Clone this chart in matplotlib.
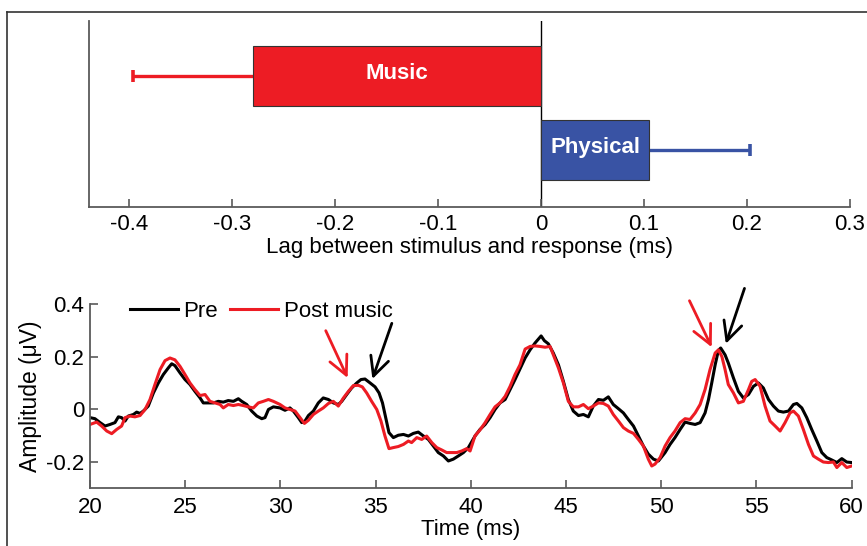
import matplotlib
matplotlib.use("Agg")
import matplotlib.pyplot as plt
from matplotlib.lines import Line2D

# ---- top panel: lag between stimulus and response ----
lag_labels = ["Music", "Physical"]
lag_values = [-0.28, 0.105]
lag_errors = [0.116, 0.098]
lag_colors = ["#ED1C24", "#3953A4"]
lag_ticks = [-0.4, -0.3, -0.2, -0.1, 0, 0.1, 0.2, 0.3]
lag_ticklabels = ["-0.4", "-0.3", "-0.2", "-0.1", "0", "0.1", "0.2", "0.3"]

# ---- bottom panel: waveforms (Time in ms, amplitude in uV) ----
pre_t = [20.0, 20.26, 20.53, 20.79, 21.05, 21.31, 21.49, 21.66, 21.84, 22.01,
         22.28, 22.45, 22.63, 22.80, 23.06, 23.33, 23.59, 23.85, 24.11, 24.29,
         24.46, 24.73, 24.99, 25.25, 25.51, 25.78, 25.95, 26.21, 26.48, 26.74,
         27.00, 27.26, 27.53, 27.79, 27.97, 28.23, 28.49, 28.76, 29.02, 29.19,
         29.37, 29.63, 29.98, 30.24, 30.50, 30.68, 30.94, 31.12, 31.29, 31.47,
         31.73, 31.99, 32.25, 32.52, 32.78, 33.04, 33.22, 33.48, 33.74, 34.01,
         34.23, 34.44, 34.71, 34.97, 35.18, 35.36, 35.53, 35.70, 35.93, 36.19,
         36.46, 36.72, 36.98, 37.24, 37.51, 37.77, 38.03, 38.29, 38.56, 38.82,
         39.08, 39.34, 39.61, 39.87, 40.22, 40.48, 40.75, 41.01, 41.27, 41.53,
         41.80, 42.06, 42.32, 42.58, 42.85, 43.11, 43.37, 43.55, 43.69, 43.86,
         44.07, 44.33, 44.60, 44.86, 45.12, 45.38, 45.65, 45.91, 46.17, 46.43,
         46.70, 46.96, 47.22, 47.48, 47.75, 48.01, 48.27, 48.54, 48.80, 49.06,
         49.32, 49.59, 49.85, 50.20, 50.46, 50.72, 50.99, 51.25, 51.51, 51.78,
         52.04, 52.30, 52.48, 52.65, 52.83, 53.00, 53.12, 53.35, 53.52, 53.79,
         54.05, 54.31, 54.58, 54.84, 55.10, 55.36, 55.63, 55.89, 56.15, 56.41,
         56.68, 56.94, 57.12, 57.38, 57.64, 57.90, 58.17, 58.43, 58.69, 58.95,
         59.22, 59.48, 59.74, 60.0]
pre_v = [-0.031, -0.035, -0.050, -0.063, -0.057, -0.050, -0.028, -0.031, -0.044, -0.025,
         -0.019, -0.010, -0.015, -0.006, 0.013, 0.063, 0.101, 0.133, 0.158, 0.174,
         0.167, 0.139, 0.114, 0.095, 0.069, 0.044, 0.025, 0.025, 0.025, 0.031,
         0.028, 0.034, 0.031, 0.041, 0.031, 0.019, -0.006, -0.025, -0.035, -0.031,
         0.000, 0.010, 0.006, -0.003, 0.006, -0.006, -0.031, -0.050, -0.044, -0.023,
         -0.006, 0.025, 0.044, 0.038, 0.025, 0.019, 0.031, 0.057, 0.082, 0.101,
         0.114, 0.116, 0.101, 0.086, 0.063, 0.025, -0.031, -0.088, -0.107, -0.098,
         -0.095, -0.101, -0.091, -0.086, -0.101, -0.114, -0.139, -0.164, -0.177, -0.196,
         -0.189, -0.177, -0.164, -0.145, -0.101, -0.076, -0.057, -0.031, 0.000, 0.025,
         0.038, 0.076, 0.114, 0.154, 0.196, 0.227, 0.253, 0.268, 0.280, 0.262,
         0.250, 0.215, 0.170, 0.107, 0.038, -0.006, -0.023, -0.019, -0.028, 0.013,
         0.038, 0.035, 0.048, 0.019, 0.003, -0.013, -0.038, -0.063, -0.101, -0.139,
         -0.170, -0.189, -0.196, -0.164, -0.133, -0.107, -0.076, -0.048, -0.053, -0.057,
         -0.050, -0.013, 0.038, 0.101, 0.170, 0.225, 0.234, 0.208, 0.177, 0.120,
         0.069, 0.044, 0.057, 0.088, 0.101, 0.082, 0.038, 0.013, -0.006, -0.010,
         -0.006, 0.019, 0.023, 0.006, -0.031, -0.076, -0.120, -0.164, -0.183, -0.192,
         -0.202, -0.187, -0.200, -0.202]

post_t = [20.0, 20.35, 20.61, 20.88, 21.14, 21.40, 21.66, 21.84, 22.10, 22.36,
          22.63, 22.89, 23.15, 23.41, 23.68, 23.94, 24.20, 24.46, 24.73, 24.99,
          25.25, 25.51, 25.78, 26.04, 26.30, 26.57, 26.83, 27.00, 27.26, 27.53,
          27.79, 28.05, 28.31, 28.58, 28.84, 29.10, 29.37, 29.63, 29.98, 30.24,
          30.50, 30.77, 31.03, 31.26, 31.47, 31.73, 31.99, 32.25, 32.52, 32.78,
          33.04, 33.31, 33.57, 33.83, 34.09, 34.30, 34.53, 34.79, 35.06, 35.28,
          35.49, 35.70, 35.93, 36.19, 36.46, 36.72, 36.89, 37.16, 37.42, 37.68,
          37.95, 38.21, 38.47, 38.73, 39.00, 39.26, 39.52, 39.78, 39.96, 40.22,
          40.48, 40.75, 41.01, 41.27, 41.53, 41.80, 42.06, 42.32, 42.58, 42.85,
          43.11, 43.37, 43.63, 43.90, 44.16, 44.33, 44.60, 44.86, 45.12, 45.38,
          45.65, 45.91, 46.17, 46.43, 46.70, 46.96, 47.22, 47.48, 47.75, 48.01,
          48.27, 48.54, 48.80, 49.06, 49.32, 49.50, 49.67, 49.94, 50.20, 50.46,
          50.72, 50.99, 51.25, 51.51, 51.78, 52.04, 52.30, 52.56, 52.83, 53.00,
          53.18, 53.35, 53.52, 53.79, 54.05, 54.31, 54.58, 54.75, 54.93, 55.19,
          55.45, 55.71, 55.98, 56.24, 56.50, 56.76, 56.94, 57.20, 57.46, 57.73,
          57.99, 58.25, 58.51, 58.78, 59.04, 59.22, 59.48, 59.74, 60.0]
post_v = [-0.057, -0.048, -0.063, -0.082, -0.092, -0.076, -0.063, -0.031, -0.025, -0.028,
          -0.023, 0.000, 0.038, 0.095, 0.152, 0.186, 0.196, 0.189, 0.164, 0.133,
          0.101, 0.076, 0.053, 0.057, 0.031, 0.025, 0.019, 0.006, 0.019, 0.015,
          0.019, 0.015, 0.010, 0.006, 0.025, 0.031, 0.038, 0.031, 0.019, 0.006,
          0.000, -0.006, -0.031, -0.053, -0.041, -0.019, -0.006, 0.006, 0.023, 0.031,
          0.013, 0.044, 0.069, 0.091, 0.092, 0.086, 0.063, 0.031, 0.000, -0.044,
          -0.101, -0.149, -0.145, -0.141, -0.133, -0.120, -0.126, -0.107, -0.114, -0.101,
          -0.126, -0.145, -0.154, -0.164, -0.164, -0.164, -0.158, -0.149, -0.158, -0.100,
          -0.078, -0.050, -0.019, 0.010, 0.025, 0.050, 0.088, 0.133, 0.170, 0.230,
          0.240, 0.242, 0.240, 0.237, 0.240, 0.208, 0.158, 0.101, 0.031, 0.010,
          0.010, 0.019, 0.003, 0.013, 0.025, 0.023, 0.013, -0.019, -0.044, -0.069,
          -0.082, -0.091, -0.114, -0.139, -0.189, -0.215, -0.208, -0.183, -0.139, -0.107,
          -0.082, -0.050, -0.035, -0.038, -0.013, 0.019, 0.076, 0.152, 0.215, 0.227,
          0.202, 0.152, 0.095, 0.063, 0.025, 0.031, 0.076, 0.107, 0.114, 0.088,
          0.013, -0.044, -0.063, -0.082, -0.050, -0.013, -0.006, -0.025, -0.076, -0.133,
          -0.177, -0.189, -0.200, -0.202, -0.200, -0.221, -0.202, -0.221, -0.215]

time_ticks = [20, 25, 30, 35, 40, 45, 50, 55, 60]
amp_ticks = [-0.2, 0, 0.2, 0.4]
amp_ticklabels = ["-0.2", "0", "0.2", "0.4"]

# arrows: (tail time, tail amp, tip time, tip amp)
arrow_red = [(32.38, 0.300, 33.53, 0.120), (51.48, 0.414, 52.65, 0.237)]
arrow_black = [(35.85, 0.328, 34.83, 0.116), (54.37, 0.461, 53.39, 0.250)]

RED = "#ED1C24"
AXIS_GRAY = "#5a5a5a"
FS = 16

plt.rcParams["font.family"] = ["Liberation Sans", "DejaVu Sans"]
plt.rcParams["font.size"] = FS


def style_axes(ax):
    for side in ["top", "right"]:
        ax.spines[side].set_visible(False)
    for side in ["left", "bottom"]:
        ax.spines[side].set_color(AXIS_GRAY)
        ax.spines[side].set_linewidth(1.3)
    ax.tick_params(direction="in", length=5.5, width=1.2, color=AXIS_GRAY,
                   labelsize=FS, labelcolor="black")


def main():
    W, H = 867, 546
    fig = plt.figure(figsize=(W / 100, H / 100), dpi=100)

    # outer frame (top and left edge only visible)
    fig.add_artist(Line2D([7 / W, 1], [1 - 12 / H, 1 - 12 / H], color="#333333", lw=1.2))
    fig.add_artist(Line2D([7 / W, 7 / W], [0, 1 - 12 / H], color="#333333", lw=1.2))

    # ---- top panel ----
    ax1 = fig.add_axes([89 / W, 1 - 206.7 / H, (850 - 89) / W, (206.7 - 20.7) / H])
    style_axes(ax1)
    ypos = [2, 1]
    ax1.axvline(0, color="black", lw=1, zorder=1)
    ax1.barh(ypos, lag_values, height=0.8, color=lag_colors,
             edgecolor="#333333", linewidth=0.8, zorder=2)
    for y, val, err, col, lab in zip(ypos, lag_values, lag_errors, lag_colors, lag_labels):
        end = val - err if val < 0 else val + err
        ax1.plot([val, end], [y, y], color=col, lw=2.4, zorder=1.5, solid_capstyle="butt")
        ax1.plot([end], [y], marker="|", markersize=8.5, markeredgewidth=2.6,
                 color=col, zorder=1.5)
        ax1.text(val / 2, y + 0.03, lab, color="white", fontweight="bold",
                 fontsize=16, ha="center", va="center", zorder=3)
    ax1.set_xlim(-0.439, 0.3)
    ax1.set_ylim(0.233, 2.747)
    ax1.set_xticks(lag_ticks)
    ax1.set_xticklabels(lag_ticklabels)
    ax1.set_yticks([])
    ax1.tick_params(axis="x", pad=5)
    ax1.set_xlabel("Lag between stimulus and response (ms)", fontsize=FS, labelpad=2)

    # ---- bottom panel ----
    ax2 = fig.add_axes([90 / W, 1 - 488.3 / H, (851.7 - 90) / W, (488.3 - 304.4) / H])
    style_axes(ax2)
    ax2.plot(pre_t, pre_v, color="black", lw=2.2, label="Pre")
    ax2.plot(post_t, post_v, color=RED, lw=2.2, label="Post music")
    ax2.set_xlim(20, 60)
    ax2.set_ylim(-0.3, 0.4)
    ax2.set_xticks(time_ticks)
    ax2.set_yticks(amp_ticks)
    ax2.set_yticklabels(amp_ticklabels)
    ax2.tick_params(axis="x", pad=6)
    ax2.tick_params(axis="y", pad=4)
    ax2.set_xlabel("Time (ms)", fontsize=FS, labelpad=1)
    ax2.set_ylabel("Amplitude (\u03bcV)", fontsize=16.5, labelpad=3)

    for arrows, col in [(arrow_red, RED), (arrow_black, "black")]:
        for t0, v0, t1, v1 in arrows:
            ax2.annotate("", xy=(t1, v1), xytext=(t0, v0), annotation_clip=False,
                         arrowprops=dict(arrowstyle="->,head_length=0.85,head_width=0.42",
                                         color=col, lw=2.0, shrinkA=0, shrinkB=0))

    ax2.legend(loc="center left", bbox_to_anchor=(0.0525, 0.964), ncol=2,
               frameon=False, borderpad=0, borderaxespad=0, handlelength=2.15,
               handletextpad=0.25, columnspacing=0.55, fontsize=FS)

    fig.savefig("out.png", dpi=100)


if __name__ == "__main__":
    main()
